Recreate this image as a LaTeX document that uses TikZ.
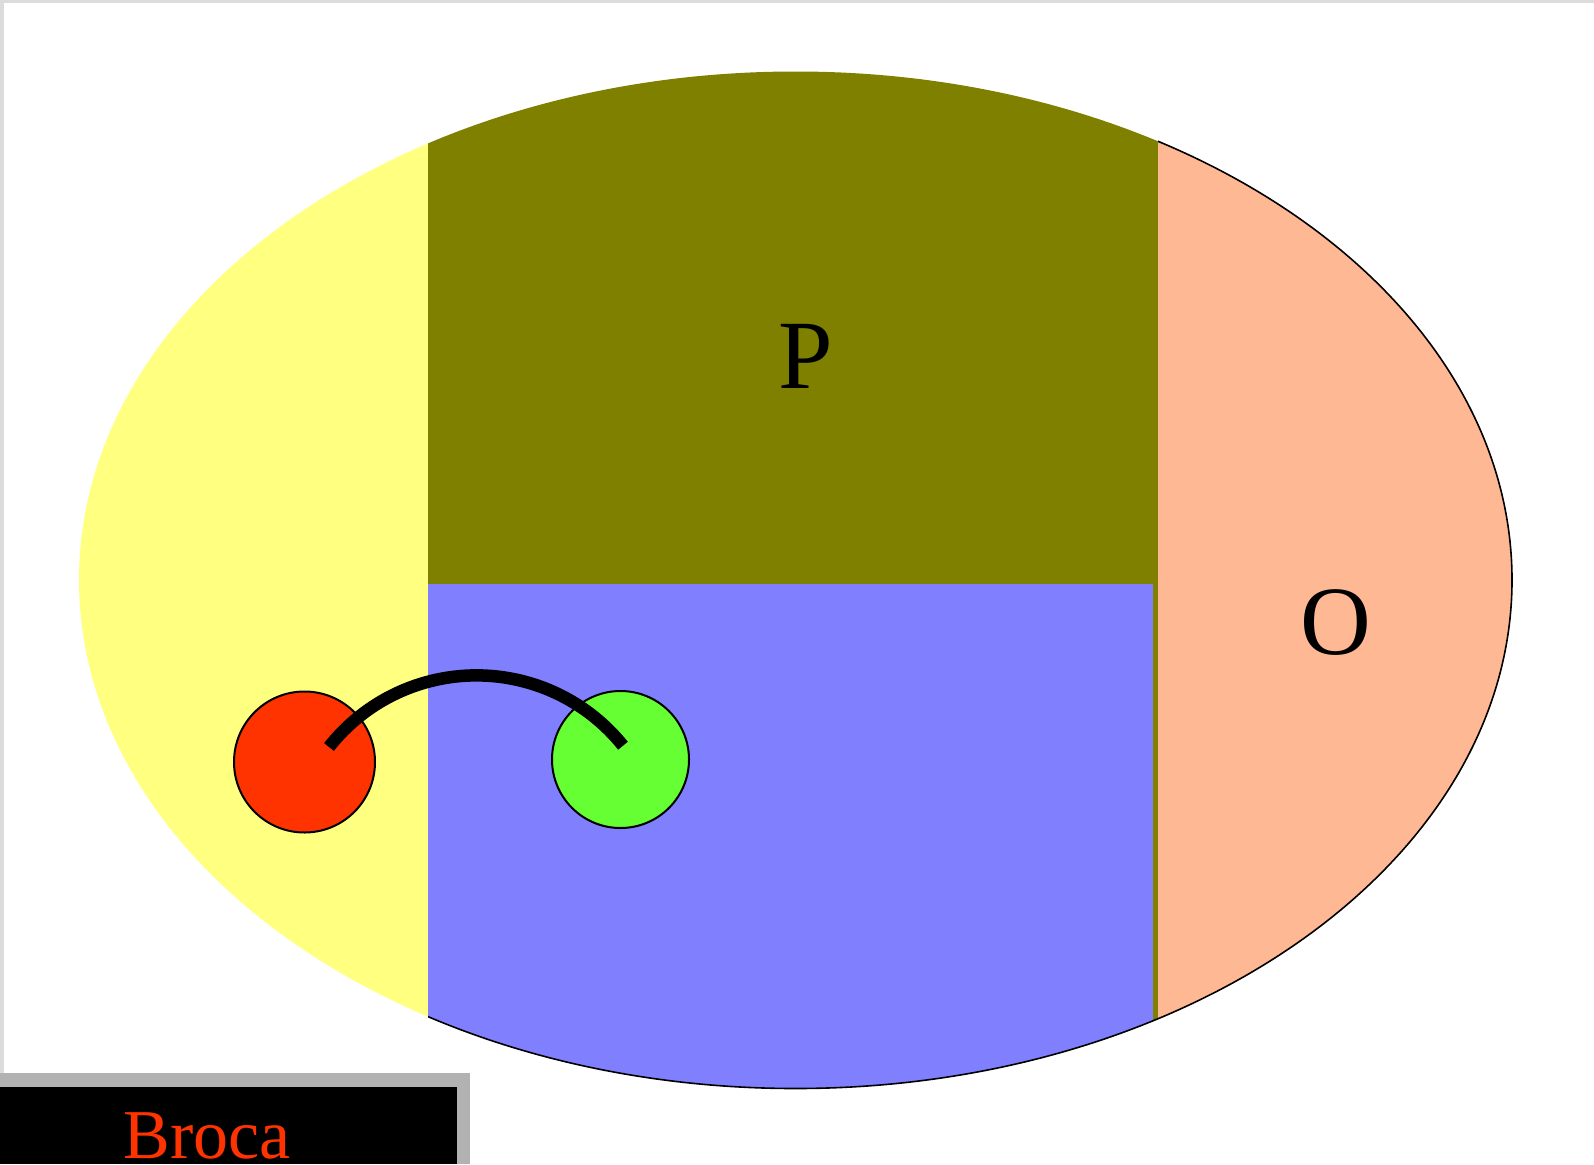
\documentclass[tikz,border=0pt]{standalone}
\usepackage{fontspec}
\setmainfont{Liberation Serif}
\usetikzlibrary{calc}
\definecolor{frameGray}{RGB}{220,220,220}
\definecolor{boxGray}{RGB}{178,178,178}
\definecolor{lobeYellow}{RGB}{255,255,128}
\definecolor{lobeOlive}{RGB}{128,128,0}
\definecolor{lobeBlue}{RGB}{128,128,255}
\definecolor{lobePink}{RGB}{255,184,148}
\definecolor{spotRed}{RGB}{255,51,0}
\definecolor{spotGreen}{RGB}{102,255,51}
\tikzset{
  spot/.style={circle, draw=black, line width=2pt, inner sep=0pt},
  lobelabel/.style={font=\fontsize{98}{100}\selectfont, text=black, inner sep=0pt},
  rim/.style={draw=black, line width=1.6pt},
  link/.style={draw=black, line width=12.5pt, line cap=butt}
}
\begin{document}
\begin{tikzpicture}[x=1pt,y=-1pt]
\useasboundingbox (0,0) rectangle (1594,1164);
\fill[white] (0,0) rectangle (1594,1164);
% frame strips
\fill[frameGray] (0,0) rectangle (1594,3);
\fill[frameGray] (0,0) rectangle (4,1073);
% lobes clipped to the ellipse
\begin{scope}
  \clip (795.5,580) ellipse [x radius=716.5, y radius=508.5];
  \fill[lobeYellow] (0,0) rectangle (428,1164);
  \fill[lobeOlive] (428,0) rectangle (1158,584);
  \fill[lobeOlive] (1153,584) rectangle (1158,1164);
  \fill[lobeBlue] (428,584) rectangle (1153,1164);
  \fill[lobePink] (1158,0) rectangle (1594,1164);
\end{scope}
% black rims on the pink and blue parts
\begin{scope}
  \clip (428,584) rectangle (1594,1164);
  \draw[rim] (795.5,580) ellipse [x radius=716.5, y radius=508.5];
\end{scope}
\begin{scope}
  \clip (1158,0) rectangle (1594,584);
  \draw[rim] (795.5,580) ellipse [x radius=716.5, y radius=508.5];
\end{scope}
% labels
\node[lobelabel] (P) at (806,356) {P};
\node[lobelabel] (O) at (1336,623) {O};
% spots
\node[spot, fill=spotRed, minimum size=141pt] (broca) at (304.5,762) {};
\node[spot, fill=spotGreen, minimum size=137pt] (wern) at (620.5,759.5) {};
\coordinate (la) at ($(broca.center)+(24.5,-15)$);
\path[link] (la) arc[start angle=-141.8, end angle=-38.7, radius=187.7];
% Broca box
\fill[boxGray] (0,1073) rectangle (470,1164);
\fill[black] (0,1087) rectangle (457,1164);
\node[font=\fontsize{70}{72}\selectfont, text=spotRed, anchor=base, inner sep=0pt] (bl) at (207,1158) {Broca};
\end{tikzpicture}
\end{document}
